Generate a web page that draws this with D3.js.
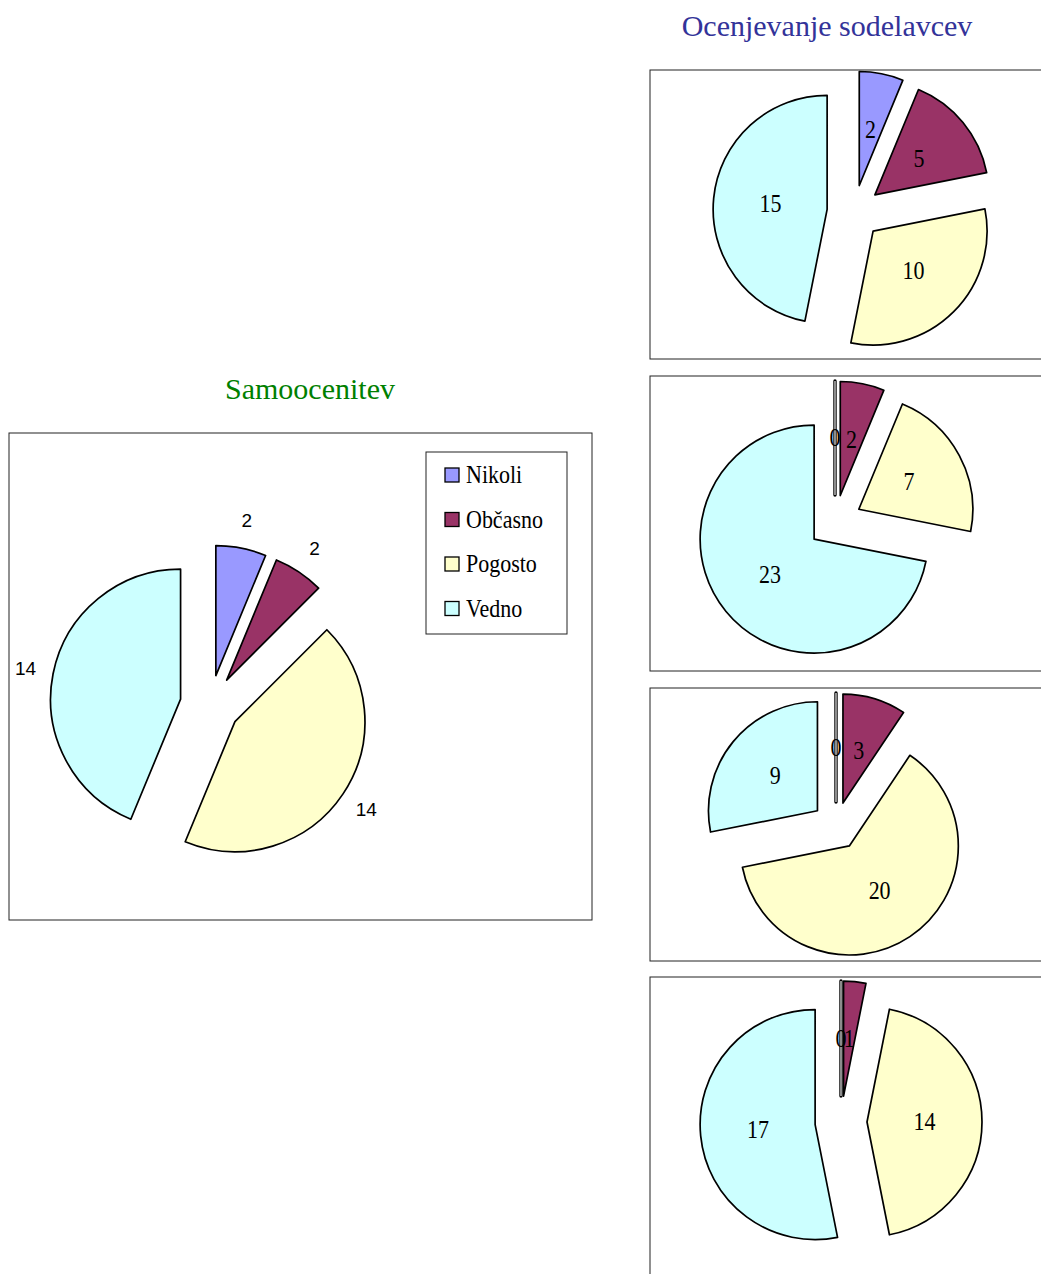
<!DOCTYPE html>
<html>
<head>
<meta charset="utf-8">
<script src="https://cdn.jsdelivr.net/npm/d3@7"></script>
<style>
  body { margin: 0; background: #fff; }
  svg { display: block; }
</style>
</head>
<body>
<div id="viz"></div>
<script>
// categories and colours (same for every pie)
const categories = ["Nikoli", "Občasno", "Pogosto", "Vedno"];
const colors = ["#9999FF", "#993366", "#FFFFCC", "#CCFFFF"];

// Samoocenitev
const selfValues = [2, 2, 14, 14];

// Ocenjevanje sodelavcev (four questions)
const peerValues1 = [2, 5, 10, 15];
const peerValues2 = [0, 2, 7, 23];
const peerValues3 = [0, 3, 20, 9];
const peerValues4 = [0, 1, 14, 17];
const peerSeries = [peerValues1, peerValues2, peerValues3, peerValues4];

const width = 1041;
const height = 1274;

const svg = d3.select("#viz").append("svg")
    .attr("width", width)
    .attr("height", height);

const serif = "'Liberation Serif', 'Times New Roman', serif";
const sans = "'Liberation Sans', Arial, sans-serif";

const pie = d3.pie().sort(null).value(d => d);
const color = d3.scaleOrdinal().domain(categories).range(colors);
const midAngle = d => (d.startAngle + d.endAngle) / 2;

// draws one exploded pie; returns the slices for labelling
function drawPie(g, values, r, explode) {
    const arc = d3.arc().innerRadius(0).outerRadius(r);
    const slices = pie(values);
    const shift = d => `translate(${explode * Math.sin(midAngle(d))},${-explode * Math.cos(midAngle(d))})`;

    g.selectAll("path.slice")
        .data(slices)
        .enter()
        .append("path")
        .attr("class", "slice")
        .attr("d", arc)
        .attr("transform", shift)
        .attr("fill", (d, i) => color(categories[i]))
        .attr("stroke", "#000")
        .attr("stroke-width", d => d.value === 0 ? 3.4 : 1.7)
        .attr("stroke-linejoin", "round");

    // empty slices show as a double line
    g.selectAll("path.zero")
        .data(slices.filter(d => d.value === 0))
        .enter()
        .append("path")
        .attr("class", "zero")
        .attr("d", arc)
        .attr("transform", shift)
        .attr("fill", "none")
        .attr("stroke", "#fff")
        .attr("stroke-width", 1.1);
    return slices;
}

// ---- left chart: Samoocenitev ----
const leftBox = {x: 9, y: 433, w: 583, h: 487};
const leftPie = {cx: 210, cy: 705, r: 130, explode: 30, labelDist: 188};

svg.append("text")
    .attr("x", 310).attr("y", 399)
    .attr("text-anchor", "middle")
    .style("font-family", serif)
    .style("font-size", "30px")
    .attr("fill", "#008000")
    .text("Samoocenitev");

svg.append("rect")
    .attr("x", leftBox.x).attr("y", leftBox.y)
    .attr("width", leftBox.w).attr("height", leftBox.h)
    .attr("fill", "none").attr("stroke", "#222").attr("stroke-width", 1);

const leftG = svg.append("g").attr("transform", `translate(${leftPie.cx},${leftPie.cy})`);
const leftSlices = drawPie(leftG, selfValues, leftPie.r, leftPie.explode);

leftG.selectAll("text")
    .data(leftSlices)
    .enter()
    .append("text")
    .attr("x", d => leftPie.labelDist * Math.sin(midAngle(d)))
    .attr("y", d => -leftPie.labelDist * Math.cos(midAngle(d)))
    .attr("text-anchor", "middle")
    .attr("dominant-baseline", "central")
    .style("font-family", sans)
    .style("font-size", "19px")
    .text(d => d.data);

// legend
const legend = svg.append("g").attr("transform", "translate(426,452)");
legend.append("rect")
    .attr("width", 141).attr("height", 182)
    .attr("fill", "#fff").attr("stroke", "#222").attr("stroke-width", 1);
const items = legend.selectAll("g.item")
    .data(categories)
    .enter()
    .append("g")
    .attr("class", "item")
    .attr("transform", (d, i) => `translate(0,${31 + i * 44.5})`);
items.append("rect")
    .attr("x", 19).attr("y", -15)
    .attr("width", 14).attr("height", 14)
    .attr("fill", d => color(d))
    .attr("stroke", "#000").attr("stroke-width", 1.3);
items.append("text")
    .attr("transform", "translate(40,0) scale(1,1.1)")
    .style("font-family", serif)
    .style("font-size", "22px")
    .text(d => d);

// ---- right charts: Ocenjevanje sodelavcev ----
svg.append("text")
    .attr("x", 827).attr("y", 36)
    .attr("text-anchor", "middle")
    .style("font-family", serif)
    .style("font-size", "30px")
    .attr("fill", "#333399")
    .text("Ocenjevanje sodelavcev");

const rightLayout = [
    {y: 70, h: 289, cx: 854, cy: 212, r: 114, explode: 27},
    {y: 376, h: 295, cx: 835, cy: 522, r: 114, explode: 27},
    {y: 688, h: 273, cx: 836, cy: 826, r: 109, explode: 24},
    {y: 977, h: 330, cx: 841, cy: 1122, r: 115, explode: 26}
];

peerSeries.forEach((values, k) => {
    const L = rightLayout[k];
    svg.append("rect")
        .attr("x", 650).attr("y", L.y)
        .attr("width", 420).attr("height", L.h)
        .attr("fill", "none").attr("stroke", "#222").attr("stroke-width", 1);

    const g = svg.append("g").attr("transform", `translate(${L.cx},${L.cy})`);
    const slices = drawPie(g, values, L.r, L.explode);
    const labelDist = L.explode + 0.5 * L.r;

    g.selectAll("text")
        .data(slices)
        .enter()
        .append("text")
        .attr("transform", d => {
            const a = midAngle(d);
            return `translate(${labelDist * Math.sin(a)},${-labelDist * Math.cos(a) + 8}) scale(1,1.1)`;
        })
        .attr("text-anchor", "middle")
        .style("font-family", serif)
        .style("font-size", "22px")
        .text(d => d.data);
});
</script>
</body>
</html>
